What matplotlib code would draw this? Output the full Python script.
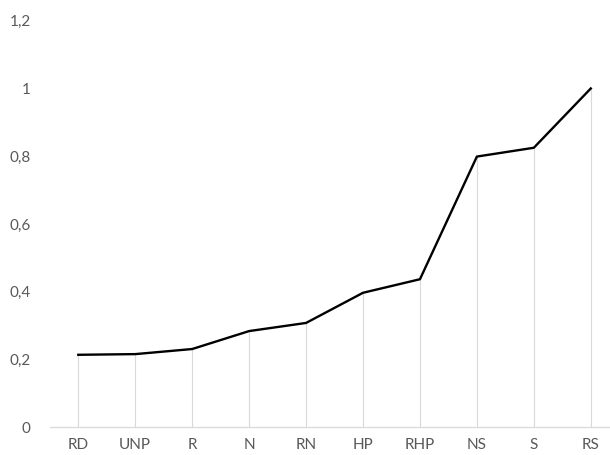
import matplotlib
matplotlib.use("Agg")
import matplotlib.pyplot as plt
from matplotlib.ticker import FuncFormatter

categories = ["RD", "UNP", "R", "N", "RN", "HP", "RHP", "NS", "S", "RS"]
values = [0.214, 0.216, 0.231, 0.284, 0.308, 0.397, 0.437, 0.799, 0.825, 1.0]
y_ticks = [0, 0.2, 0.4, 0.6, 0.8, 1.0, 1.2]

plt.rcParams["font.family"] = ["Lato", "DejaVu Sans"]

W, H = 610, 455
fig = plt.figure(figsize=(W / 100, H / 100), dpi=100)
left, right = 50, 609
bottom, top = 455 - 427.3, 455 - 20.7
ax = fig.add_axes([left / W, bottom / H, (right - left) / W, (top - bottom) / H])

x = list(range(len(categories)))

# drop lines from each point down to the category axis
ax.vlines(x, 0, values, color="#d9d9d9", linewidth=0.8, zorder=1)
ax.plot(x, values, color="black", linewidth=1.7, solid_joinstyle="round", zorder=3)

ax.set_xlim(-0.497, 9.32)
ax.set_ylim(0, 1.2)
ax.set_xticks(x)
ax.set_xticklabels(categories)
ax.set_yticks(y_ticks)
ax.yaxis.set_major_formatter(FuncFormatter(
    lambda v, _: ("%g" % round(v, 1)).replace(".", ",")))

for side in ("top", "right", "left"):
    ax.spines[side].set_visible(False)
ax.spines["bottom"].set_color("#d9d9d9")
ax.spines["bottom"].set_linewidth(0.9)

ax.tick_params(axis="both", length=0, labelsize=11, colors="#595959")
ax.tick_params(axis="x", pad=8)
ax.tick_params(axis="y", pad=14)

fig.savefig("out.png", dpi=100, facecolor="white")
